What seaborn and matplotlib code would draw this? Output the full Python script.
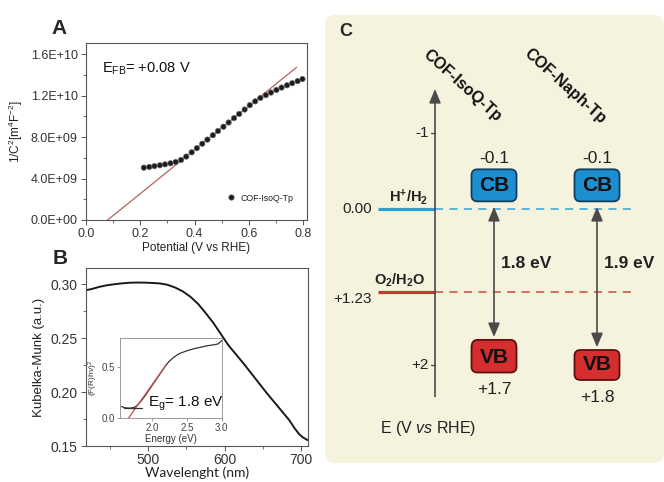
import numpy as np
import pandas as pd
import matplotlib
matplotlib.use("Agg")
import matplotlib.pyplot as plt
import seaborn as sns
from matplotlib.patches import FancyBboxPatch
from matplotlib.ticker import MultipleLocator

# ---------------- data ----------------
# Panel A : Mott-Schottky plot (1/C^2 in units of 1e9)
potential_v = [0.213, 0.233, 0.252, 0.272, 0.291, 0.311, 0.330, 0.350, 0.369, 0.389,
               0.408, 0.428, 0.447, 0.467, 0.486, 0.506, 0.525, 0.545, 0.564, 0.584,
               0.603, 0.623, 0.642, 0.662, 0.681, 0.701, 0.720, 0.740, 0.759, 0.779, 0.797]
inv_c2_e9 = [5.05, 5.12, 5.20, 5.28, 5.37, 5.47, 5.60, 5.80, 6.12, 6.53,
             6.93, 7.36, 7.76, 8.18, 8.59, 9.00, 9.41, 9.83, 10.24, 10.66,
             11.08, 11.45, 11.78, 12.05, 12.30, 12.55, 12.78, 13.00, 13.20, 13.40, 13.60]
fit_potential = [0.06, 0.775]
fit_inv_c2_e9 = [-0.42, 14.73]
a_sample = "COF-IsoQ-Tp"
a_yticks = [0.0, 4.0e9, 8.0e9, 1.2e10, 1.6e10]
a_yticklabels = ["0.0E+00", "4.0E+09", "8.0E+09", "1.2E+10", "1.6E+10"]
a_xticks = [0.0, 0.2, 0.4, 0.6, 0.8]

# Panel B : Kubelka-Munk spectrum
wavelength_nm = [418, 425, 435, 445, 455, 465, 475, 485, 495, 505, 515, 525, 535, 545, 555,
                 565, 575, 585, 595, 605, 615, 625, 635, 645, 655, 665, 675, 685, 692, 698,
                 703, 709]
kubelka_munk = [0.2945, 0.2955, 0.2975, 0.2990, 0.3000, 0.3008, 0.3014, 0.3016, 0.3015,
                0.3012, 0.3008, 0.2995, 0.2970, 0.2935, 0.2885, 0.2820, 0.2735, 0.2645,
                0.2540, 0.2435, 0.2350, 0.2265, 0.2175, 0.2085, 0.1995, 0.1910, 0.1825,
                0.1740, 0.1665, 0.1610, 0.1580, 0.1555]
b_xticks = [500, 600, 700]
b_yticks = [0.15, 0.20, 0.25, 0.30]

# Panel B inset : Tauc plot
energy_ev = [1.56, 1.60, 1.65, 1.70, 1.75, 1.80, 1.85, 1.90, 1.95, 2.00, 2.05, 2.10,
             2.15, 2.20, 2.25, 2.30, 2.35, 2.40, 2.50, 2.60, 2.70, 2.80, 2.90, 2.95, 3.00]
tauc = [0.115, 0.105, 0.100, 0.100, 0.108, 0.135, 0.175, 0.220, 0.270, 0.320, 0.370, 0.420,
        0.470, 0.520, 0.560, 0.590, 0.615, 0.635, 0.660, 0.680, 0.695, 0.710, 0.720, 0.728, 0.760]
tangent_ev = [1.66, 2.20]
tangent_val = [0.0, 0.52]
baseline_ev = [1.60, 1.85]
baseline_val = [0.10, 0.10]
eg_value = 1.8

# Panel C : band diagram
c_ticks = [-1, 2]
c_ticklabels = ["-1", "+2"]
redox_values = [0.00, 1.23]
redox_value_labels = ["0.00", "+1.23"]
redox_names = [r"H$^{\mathbf{+}}$/H$_{\mathbf{2}}$", r"O$_{\mathbf{2}}$/H$_{\mathbf{2}}$O"]
cof_names = ["COF-IsoQ-Tp", "COF-Naph-Tp"]
cb_values = [-0.1, -0.1]
vb_values = [1.7, 1.8]
gap_values = [1.8, 1.9]

# ---------------- style ----------------
sns.set_style("ticks")
plt.rcParams["font.family"] = ["Liberation Sans", "DejaVu Sans"]
plt.rcParams["mathtext.fontset"] = "custom"
plt.rcParams["mathtext.rm"] = "Liberation Sans"
plt.rcParams["mathtext.it"] = "Liberation Sans:italic"
plt.rcParams["mathtext.bf"] = "Liberation Sans:bold"
plt.rcParams["axes.edgecolor"] = "#555555"
plt.rcParams["axes.linewidth"] = 0.8

W, H = 664, 482
fig = plt.figure(figsize=(W / 100, H / 100), dpi=100)
fig.patch.set_facecolor("white")


def fax(x0, y0, x1, y1):
    return fig.add_axes([x0 / W, 1 - y1 / H, (x1 - x0) / W, (y1 - y0) / H])


tick_col = "#333333"

# ---------------- Panel A ----------------
axA = fax(86, 42.7, 306.7, 220)
dfA = pd.DataFrame({"Potential": potential_v,
                    "InvC2": np.array(inv_c2_e9) * 1e9,
                    "Sample": a_sample})
axA.plot(fit_potential, np.array(fit_inv_c2_e9) * 1e9, color="#b5625a", lw=0.9, zorder=2)
sns.scatterplot(data=dfA, x="Potential", y="InvC2", hue="Sample", palette=["#1c1c1c"],
                s=15, edgecolor="#6a6a6a", linewidth=0.5, ax=axA, zorder=3)
axA.set_xlim(0, 0.8125)
axA.set_ylim(0, 1.711e10)
axA.set_xticks(a_xticks)
axA.set_xticklabels([f"{v:.1f}" for v in a_xticks])
axA.set_yticks(a_yticks)
axA.set_yticklabels(a_yticklabels)
axA.xaxis.set_minor_locator(MultipleLocator(0.1))
axA.yaxis.set_minor_locator(MultipleLocator(2e9))
axA.tick_params(which="major", length=3.5, width=0.7, labelsize=9, labelcolor=tick_col,
                color="#555555", pad=2.5)
axA.tick_params(which="minor", length=2, width=0.6, color="#555555")
axA.set_xlabel("Potential (V vs RHE)", fontsize=8.5, color="#222222", labelpad=1.5)
axA.set_ylabel(r"1/C$^2$[m$^4$F$^{-2}$]", fontsize=8.5, color="#222222", labelpad=4)
axA.text(0.058, 14.6e9, r"E$_{\rm FB}$= +0.08 V", fontsize=10.5, va="center", ha="left",
         color="#111111")
leg = axA.legend(loc="center left", bbox_to_anchor=(0.635, 0.124), frameon=False,
                 fontsize=6.3, handlelength=1.0, handletextpad=0.6, borderaxespad=0,
                 borderpad=0, markerscale=1.0)
for t in leg.get_texts():
    t.set_color("#222222")

# ---------------- Panel B ----------------
axB = fax(86, 268.3, 307.5, 446)
sns.lineplot(x=wavelength_nm, y=kubelka_munk, color="#1a1a1a", lw=1.4, ax=axB)
axB.set_xlim(418, 709)
axB.set_ylim(0.15, 0.3148)
axB.set_xticks(b_xticks)
axB.set_yticks(b_yticks)
axB.set_yticklabels([f"{v:.2f}" for v in b_yticks])
axB.xaxis.set_minor_locator(MultipleLocator(50))
axB.yaxis.set_minor_locator(MultipleLocator(0.025))
axB.tick_params(which="major", length=3.5, width=0.7, labelsize=10, labelcolor=tick_col,
                color="#555555", pad=2.5)
axB.tick_params(axis="x", which="major", pad=1.5)
axB.tick_params(which="minor", length=2, width=0.6, color="#555555")
axB.set_ylabel("Kubelka-Munk (a.u.)", fontsize=9.5, color="#222222", labelpad=4)
axB.set_xlabel("Wavelenght (nm)", fontsize=10, color="#222222", labelpad=0,
               family=["Lato", "DejaVu Sans"])

# inset
axI = fax(120, 337.5, 221.7, 418.3)
sns.lineplot(x=energy_ev, y=tauc, color="#333333", lw=0.9, ax=axI)
axI.plot(tangent_ev, tangent_val, color="#c0504a", lw=0.9)
axI.plot(baseline_ev, baseline_val, color="#333333", lw=0.9)
axI.set_xlim(1.54, 3.0)
axI.set_ylim(0, 0.79)
axI.set_xticks([2.0, 2.5, 3.0])
axI.set_yticks([0.0, 0.5])
axI.set_xticklabels(["2.0", "2.5", "3.0"])
axI.set_yticklabels(["0.0", "0.5"])
for s in axI.spines.values():
    s.set_color("#8a8a8a")
    s.set_linewidth(0.6)
axI.tick_params(length=2, width=0.5, labelsize=7, labelcolor="#444444", color="#777777", pad=1.5)
axI.set_xlabel("Energy (eV)", fontsize=7, color="#333333", labelpad=0.5)
axI.set_ylabel(r"(F(R)h$\nu$)$^2$", fontsize=6, color="#333333", labelpad=1)
axI.text(1.935, 0.145, r"E$_{\rm g}$= " + f"{eg_value:.1f} eV", fontsize=11, va="center",
         ha="left", color="#111111")

# ---------------- Panel C ----------------
E_knots = [-3.0, -1.0, 0.0, 1.23, 1.8, 2.0, 3.5]
P_knots = [-19.9, 132.7, 209.0, 292.3, 350.0, 365.0, 477.5]


def fwd(e):
    return np.interp(e, E_knots, P_knots)


def inv(p):
    return np.interp(p, P_knots, E_knots)


axC = fax(325, 15, 664, 463)
axC.set_yscale("function", functions=(fwd, inv))
axC.set_xlim(325, 664)
axC.set_ylim(float(inv(463)), float(inv(15)))
axC.axis("off")

bg = FancyBboxPatch((0, 0), 1, 1, boxstyle="round,pad=0,rounding_size=0.03",
                    mutation_aspect=339 / 448, transform=axC.transAxes,
                    facecolor="#f5f3de", edgecolor="none", zorder=0, clip_on=False)
axC.add_patch(bg)

axis_x = 435
ax_col = "#4a4a4a"
axC.annotate("", xy=(axis_x, -1.573), xytext=(axis_x, 2.42),
             arrowprops=dict(arrowstyle="-|>,head_length=0.6,head_width=0.25",
                             mutation_scale=14, color=ax_col, lw=1.2,
                             shrinkA=0, shrinkB=0), zorder=3)
for t, lab in zip(c_ticks, c_ticklabels):
    axC.plot([axis_x - 4, axis_x], [t, t], color=ax_col, lw=1.0, zorder=3)
    axC.text(axis_x - 6, t, lab, ha="right", va="center", fontsize=11, color="#222222")

solid_cols = ["#2a9fd6", "#c23a2e"]
dash_cols = ["#4fb0dc", "#d0645a"]
for i, (val, vlab, name) in enumerate(zip(redox_values, redox_value_labels, redox_names)):
    axC.plot([378, axis_x], [val, val], color=solid_cols[i], lw=2.3,
             solid_capstyle="butt", zorder=2)
    axC.plot([axis_x, 632], [val, val], color=dash_cols[i], lw=1.3,
             ls=(0, (4.5, 3.5)), zorder=1)
    if i == 0:
        axC.text(372, val, vlab, ha="right", va="center", fontsize=11, color="#222222")
        axC.annotate(name, xy=(409, val), xytext=(0, 1.5), textcoords="offset points",
                     ha="center", va="bottom", fontsize=10.5, fontweight="bold",
                     color="#222222")
    else:
        axC.text(372, val, vlab, ha="right", va="top", fontsize=11, color="#222222")
        axC.annotate(name, xy=(400, val), xytext=(0, 2.5), textcoords="offset points",
                     ha="center", va="bottom", fontsize=10.5, fontweight="bold",
                     color="#222222")

cof_x = [494, 597]
box_w = 45
box_h = 0.42
vb_h = 0.40
for i in range(len(cof_names)):
    x = cof_x[i]
    cb = cb_values[i]
    vb = vb_values[i]
    # CB box
    axC.add_patch(FancyBboxPatch((x - box_w / 2, cb - box_h), box_w, box_h,
                                 boxstyle="round,pad=0,rounding_size=6",
                                 mutation_aspect=1 / 76, facecolor="#1d8fd0",
                                 edgecolor="#123f60", lw=1.3, zorder=4))
    axC.text(x, cb - box_h / 2, "CB", ha="center", va="center", fontsize=15,
             fontweight="bold", color="#111111", zorder=5)
    axC.annotate(f"{cb:.1f}", xy=(x, cb - box_h), xytext=(0, 2.5), textcoords="offset points",
                 ha="center", va="bottom", fontsize=12.5, color="#222222")
    # VB box
    axC.add_patch(FancyBboxPatch((x - box_w / 2, vb), box_w, vb_h,
                                 boxstyle="round,pad=0,rounding_size=6",
                                 mutation_aspect=1 / 80, facecolor="#d42e2e",
                                 edgecolor="#5e1010", lw=1.3, zorder=4))
    axC.text(x, vb + vb_h / 2, "VB", ha="center", va="center", fontsize=15,
             fontweight="bold", color="#111111", zorder=5)
    axC.annotate(f"+{vb:.1f}", xy=(x, vb + vb_h), xytext=(0, -7), textcoords="offset points",
                 ha="center", va="top", fontsize=12.5, color="#222222")
    # gap arrow
    axC.annotate("", xy=(x, vb), xytext=(x, cb),
                 arrowprops=dict(arrowstyle="<|-|>,head_length=0.6,head_width=0.25",
                                 mutation_scale=14, color=ax_col, lw=1.2,
                                 shrinkA=4, shrinkB=2), zorder=3)
    axC.text(x + 7, 0.80, f"{gap_values[i]:.1f} eV", ha="left", va="center",
             fontsize=12.5, fontweight="bold", color="#222222")
    # COF name
    axC.text(x - 32, -1.61, cof_names[i], rotation=-42, rotation_mode="anchor",
             ha="center", va="center", fontsize=11.5, fontweight="bold", color="#111111")

axC.text(380, 2.84, r"E (V $\mathit{vs}$ RHE)", ha="left", va="center", fontsize=11.5,
         color="#222222")

# panel letters
fig.text(59 / W, 1 - 29 / H, "A", fontsize=15, fontweight="bold", ha="center", va="center")
fig.text(60 / W, 1 - 258 / H, "B", fontsize=15, fontweight="bold", ha="center", va="center")
fig.text(345.5 / W, 1 - 31.5 / H, "C", fontsize=13, fontweight="bold", ha="center", va="center")

fig.savefig("out.png", dpi=100, facecolor="white")
